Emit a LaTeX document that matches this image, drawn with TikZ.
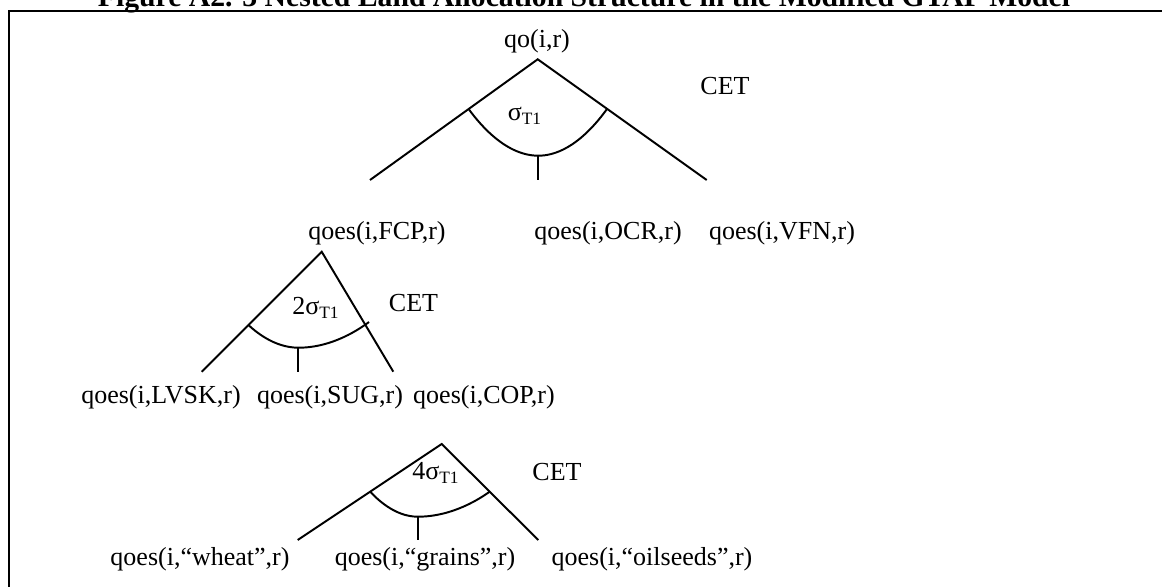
\documentclass[tikz,border=0pt]{standalone}
\usepackage{fontspec}
\setmainfont{Liberation Serif}
\begin{document}
\begin{tikzpicture}[x=0.4615pt,y=-0.4615pt,
  lbl/.style={inner sep=0pt, anchor=base, font=\fontsize{12}{14}\selectfont},
  sig/.style={inner sep=0pt, anchor=center, font=\fontsize{12}{14}\selectfont},
  ttl/.style={inner sep=0pt, anchor=base, font=\fontsize{13.7}{16}\selectfont\bfseries},
  br/.style={line width=0.9pt, line join=miter},
  frame/.style={line width=1.1pt}]
\useasboundingbox (0,0) rectangle (1162,586);
\clip (0,0) rectangle (1162,586);
% title (cut off at the top)
\node[ttl] (title) at (584,6) {Figure A2. 3 Nested Land Allocation Structure in the Modified GTAP Model};
% frame
\coordinate (fbl) at (9,600);
\coordinate (ftl) at (9,11);
\coordinate (ftr) at (1175,11);
\draw[frame] (fbl) -- (ftl) -- (ftr);

% ---- tree 1
\node[lbl] (qo) at (537,47) {qo(i,r)};
\coordinate (a1) at (537.7,59.3);
\coordinate (l1) at (370,180);
\coordinate (r1) at (706.7,180);
\coordinate (c1l) at (468.6,109);
\coordinate (c1r) at (607,109);
\coordinate (c1b) at (538.3,155.7);
\coordinate (s1) at (538.3,180);
\draw[br] (l1) -- (a1) -- (r1);
\draw[br] (c1l) parabola bend (c1b) (c1r);
\draw[br] (c1b) -- (s1);
\node[sig] (sig1) at (525,116) {σ\textsubscript{T1}};
\node[sig] (cet1) at (725,86) {CET};
\node[lbl] (fcp) at (377,239) {qoes(i,FCP,r)};
\node[lbl] (ocr) at (608,239) {qoes(i,OCR,r)};
\node[lbl] (vfn) at (782,239) {qoes(i,VFN,r)};

% ---- tree 2
\coordinate (a2) at (321.7,251.7);
\coordinate (l2) at (201.7,371.7);
\coordinate (r2) at (393.3,371.7);
\coordinate (c2l) at (248.4,325);
\coordinate (c2r) at (369,322);
\coordinate (c2b) at (298.3,347.7);
\coordinate (s2) at (298.3,371.7);
\draw[br] (l2) -- (a2) -- (r2);
\draw[br] (c2l) parabola bend (c2b) (c2r);
\draw[br] (c2b) -- (s2);
\node[sig] (sig2) at (316,308) {2σ\textsubscript{T1}};
\node[sig] (cet2) at (413.5,303) {CET};
\node[lbl] (lvsk) at (161,403) {qoes(i,LVSK,r)};
\node[lbl] (sug) at (330,403) {qoes(i,SUG,r)};
\node[lbl] (cop) at (484,403) {qoes(i,COP,r)};

% ---- tree 3
\coordinate (a3) at (441.7,444);
\coordinate (l3) at (297.7,540);
\coordinate (r3) at (538.3,540);
\coordinate (c3l) at (370.2,491.7);
\coordinate (c3r) at (489.7,491.7);
\coordinate (c3b) at (417.7,516.7);
\coordinate (s3) at (417.7,540);
\draw[br] (l3) -- (a3) -- (r3);
\draw[br] (c3l) parabola bend (c3b) (c3r);
\draw[br] (c3b) -- (s3);
\node[sig] (sig3) at (436,473) {4σ\textsubscript{T1}};
\node[sig] (cet3) at (557,472) {CET};
\node[lbl] (wheat) at (200,565) {qoes(i,“wheat”,r)};
\node[lbl] (grains) at (425,565) {qoes(i,“grains”,r)};
\node[lbl] (oil) at (652,565) {qoes(i,“oilseeds”,r)};
\end{tikzpicture}
\end{document}
